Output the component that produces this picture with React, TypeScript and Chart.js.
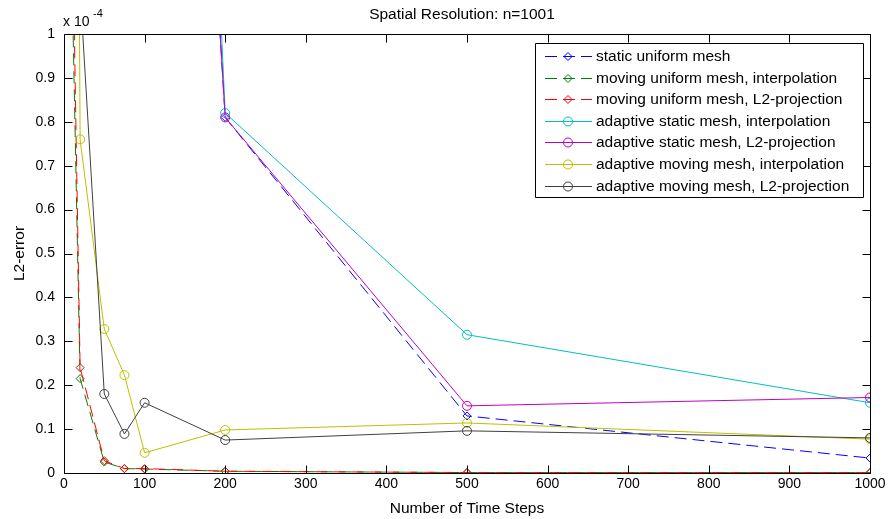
import React, { useEffect, useRef } from "react";
import { Chart, registerables } from "chart.js";

Chart.register(...registerables);

const FONT = "'Liberation Sans', Arial, Helvetica, sans-serif";

const TITLE = "Spatial Resolution: n=1001";
const X_LABEL = "Number of Time Steps";
const Y_LABEL = "L2-error";
const Y_EXPONENT = "-4";

// x positions (number of time steps)
const X_UNIFORM = [10, 20, 50, 75, 100, 200, 500, 1000];
const X_STATIC_ADAPT = [100, 200, 500, 1000];
const X_YELLOW = [10, 20, 50, 75, 100, 200, 500, 1000];
const X_BLACK = [20, 50, 75, 100, 200, 500, 1000];

// values in units of 1e-4
const STATIC_UNIFORM = [3.8, 0.81, 0.13, 0.034];
const MOVING_UNIFORM_INTERP = [1.12, 0.215, 0.025, 0.01, 0.009, 0.004, 0.001, 0.001];
const MOVING_UNIFORM_L2 = [1.3, 0.24, 0.028, 0.01, 0.01, 0.004, 0.001, 0.001];
const ADAPT_STATIC_INTERP = [4.8, 0.82, 0.315, 0.16];
const ADAPT_STATIC_L2 = [3.8, 0.81, 0.153, 0.172];
const ADAPT_MOVING_INTERP = [4.0, 0.76, 0.328, 0.223, 0.046, 0.098, 0.114, 0.077];
const ADAPT_MOVING_L2 = [1.1, 0.18, 0.089, 0.16, 0.075, 0.096, 0.08];

const LABELS = [
  "static uniform mesh",
  "moving uniform mesh, interpolation",
  "moving uniform mesh, L2-projection",
  "adaptive static mesh, interpolation",
  "adaptive static mesh, L2-projection",
  "adaptive moving mesh, interpolation",
  "adaptive moving mesh, L2-projection",
];
const COLORS = ["#0000ff", "#008000", "#ff0000", "#00bfbf", "#bf00bf", "#bfbf00", "#404040"];
const DASHED = [true, true, true, false, false, false, false];
const MARKERS = ["rectRot", "rectRot", "rectRot", "circle", "circle", "circle", "circle"];

const SERIES_X = [X_STATIC_ADAPT, X_UNIFORM, X_UNIFORM, X_STATIC_ADAPT, X_STATIC_ADAPT, X_YELLOW, X_BLACK];
const SERIES_Y = [
  STATIC_UNIFORM,
  MOVING_UNIFORM_INTERP,
  MOVING_UNIFORM_L2,
  ADAPT_STATIC_INTERP,
  ADAPT_STATIC_L2,
  ADAPT_MOVING_INTERP,
  ADAPT_MOVING_L2,
];

const DASH = [12, 6];

function drawMarker(ctx: CanvasRenderingContext2D, style: string, x: number, y: number, color: string) {
  ctx.save();
  ctx.strokeStyle = color;
  ctx.lineWidth = 1;
  ctx.setLineDash([]);
  ctx.beginPath();
  if (style === "circle") {
    ctx.arc(x, y, 4.5, 0, Math.PI * 2);
  } else {
    const r = 4;
    ctx.moveTo(x, y - r);
    ctx.lineTo(x + r, y);
    ctx.lineTo(x, y + r);
    ctx.lineTo(x - r, y);
    ctx.closePath();
  }
  ctx.stroke();
  ctx.restore();
}

const overlay = {
  id: "overlay",
  afterDraw(chart: any) {
    const { ctx, chartArea: a, scales } = chart;
    const xs = scales.x;
    const ys = scales.y;
    ctx.save();
    ctx.strokeStyle = "#000";
    ctx.lineWidth = 1;
    ctx.setLineDash([]);
    const L = Math.round(a.left) + 0.5;
    const R = Math.round(a.right) + 0.5;
    const T = Math.round(a.top) + 0.5;
    const B = Math.round(a.bottom) + 0.5;
    ctx.beginPath();
    ctx.rect(L, T, R - L, B - T);
    ctx.stroke();
    const TL = 8;
    ctx.beginPath();
    xs.ticks.forEach((t: any) => {
      const px = Math.round(xs.getPixelForValue(t.value)) + 0.5;
      ctx.moveTo(px, B);
      ctx.lineTo(px, B - TL);
      ctx.moveTo(px, T);
      ctx.lineTo(px, T + TL);
    });
    ys.ticks.forEach((t: any) => {
      const py = Math.round(ys.getPixelForValue(t.value)) + 0.5;
      ctx.moveTo(L, py);
      ctx.lineTo(L + TL, py);
      ctx.moveTo(R, py);
      ctx.lineTo(R - TL, py);
    });
    ctx.stroke();

    // title
    ctx.fillStyle = "#000";
    ctx.font = `15.5px ${FONT}`;
    ctx.textAlign = "center";
    ctx.textBaseline = "middle";
    ctx.fillText(TITLE, 462, 15);

    // exponent
    ctx.textAlign = "left";
    ctx.font = `14px ${FONT}`;
    ctx.fillText("x 10", 63, 22);
    ctx.font = `11px ${FONT}`;
    ctx.fillText(Y_EXPONENT, 93, 14);

    // legend
    const bx = 535, by = 43, bw = 328, bh = 154;
    ctx.fillStyle = "#fff";
    ctx.fillRect(bx, by, bw, bh);
    ctx.strokeStyle = "#000";
    ctx.beginPath();
    ctx.rect(bx + 0.5, by + 0.5, bw, bh);
    ctx.stroke();
    ctx.font = `15.5px ${FONT}`;
    ctx.textAlign = "left";
    ctx.textBaseline = "middle";
    LABELS.forEach((lab, i) => {
      const yy = Math.round(56 + i * 21.6) + 0.5;
      ctx.strokeStyle = COLORS[i];
      ctx.lineWidth = 1;
      ctx.setLineDash(DASHED[i] ? DASH : []);
      ctx.beginPath();
      ctx.moveTo(545, yy);
      ctx.lineTo(592, yy);
      ctx.stroke();
      ctx.setLineDash([]);
      drawMarker(ctx, MARKERS[i], 568, yy, COLORS[i]);
      ctx.fillStyle = "#000";
      ctx.fillText(lab, 596, yy);
    });
    ctx.restore();
  },
};

export default function App() {
  const ref = useRef<HTMLCanvasElement>(null);
  useEffect(() => {
    if (!ref.current) return;
    const datasets = LABELS.map((lab, i) => ({
      label: lab,
      data: SERIES_X[i].map((xv, j) => ({ x: xv, y: SERIES_Y[i][j] })),
      borderColor: COLORS[i],
      backgroundColor: "rgba(0,0,0,0)",
      borderWidth: 1,
      borderDash: DASHED[i] ? DASH : [],
      pointStyle: MARKERS[i],
      pointRadius: MARKERS[i] === "circle" ? 4.5 : 4,
      pointBorderColor: COLORS[i],
      pointBackgroundColor: "rgba(0,0,0,0)",
      pointBorderWidth: 1,
      tension: 0,
      fill: false,
      order: 10 - i,
    }));
    const chart = new Chart(ref.current, {
      type: "line",
      data: { datasets },
      options: {
        animation: false,
        responsive: false,
        maintainAspectRatio: false,
        layout: { padding: { top: 34, right: 18, left: 0, bottom: 0 } },
        plugins: { legend: { display: false }, tooltip: { enabled: false }, title: { display: false } },
        scales: {
          x: {
            type: "linear",
            min: 0,
            max: 1000,
            afterFit: (s: any) => {
              s.height = 46;
              s.paddingLeft = 0;
              s.paddingRight = 0;
            },
            ticks: {
              stepSize: 100,
              color: "#000",
              font: { family: FONT, size: 14 },
              padding: 3,
              maxRotation: 0,
              callback: (v: any) => String(Math.round(Number(v))),
            },
            grid: { display: false, drawTicks: false },
            border: { display: false },
            title: {
              display: true,
              text: X_LABEL,
              color: "#000",
              font: { family: FONT, size: 15.5 },
              padding: { top: 0, bottom: 1 },
            },
          },
          y: {
            type: "linear",
            min: 0,
            max: 1,
            afterFit: (s: any) => {
              s.width = 64;
              s.paddingTop = 0;
              s.paddingBottom = 0;
            },
            ticks: {
              stepSize: 0.1,
              color: "#000",
              font: { family: FONT, size: 14 },
              padding: 9,
              callback: (v: any) => String(Math.round(Number(v) * 10) / 10),
            },
            grid: { display: false, drawTicks: false },
            border: { display: false },
            title: {
              display: true,
              text: Y_LABEL,
              color: "#000",
              font: { family: FONT, size: 15.5 },
              padding: { top: 10, bottom: 0 },
            },
          },
        },
      },
      plugins: [overlay],
    } as any);
    return () => chart.destroy();
  }, []);
  return (
    <div style={{ position: "absolute", left: 0, top: 0, width: 888, height: 519, background: "#fff" }}>
      <canvas ref={ref} width={888} height={519} style={{ display: "block" }} />
    </div>
  );
}
